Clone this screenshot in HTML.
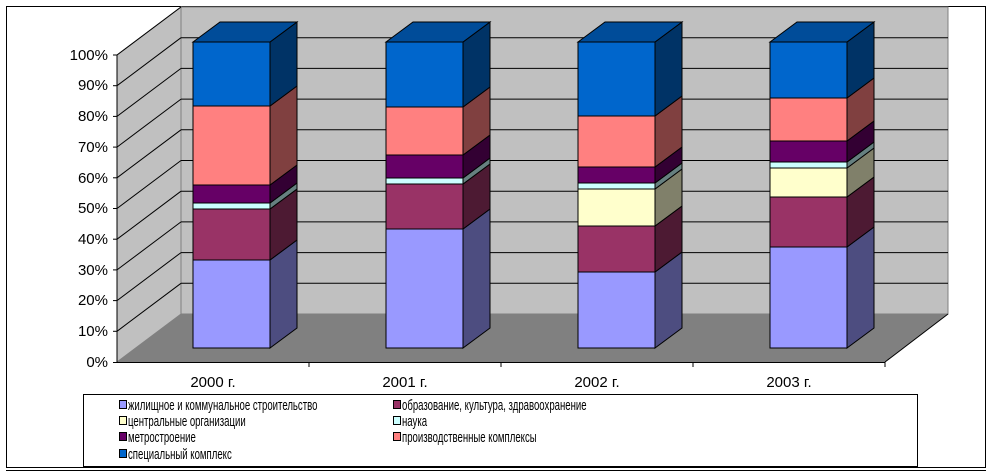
<!DOCTYPE html>
<html><head><meta charset="utf-8"><style>
body{margin:0;background:#fff;}
svg{display:block;font-family:"Liberation Sans",Arial,sans-serif;}
</style></head><body>
<svg width="992" height="475" viewBox="0 0 992 475" xmlns="http://www.w3.org/2000/svg">
<rect x="6.5" y="6.5" width="979" height="461" fill="#fff" stroke="#000"/>
<line x1="6" y1="470.5" x2="986" y2="470.5" stroke="#000"/>
<polygon points="181,7 948,7 948,314 181,314" fill="#c0c0c0" stroke="#808080"/>
<polygon points="117,55 181,7 181,314 117,362" fill="#c0c0c0" stroke="#808080"/>
<polygon points="117,362 181,314 948,314 885,362" fill="#808080"/>
<g stroke="#000" stroke-width="1">
<line x1="117" y1="331.3" x2="181" y2="283.3"/><line x1="181" y1="283.3" x2="948" y2="283.3"/>
<line x1="117" y1="300.6" x2="181" y2="252.6"/><line x1="181" y1="252.6" x2="948" y2="252.6"/>
<line x1="117" y1="269.9" x2="181" y2="221.9"/><line x1="181" y1="221.9" x2="948" y2="221.9"/>
<line x1="117" y1="239.2" x2="181" y2="191.2"/><line x1="181" y1="191.2" x2="948" y2="191.2"/>
<line x1="117" y1="208.5" x2="181" y2="160.5"/><line x1="181" y1="160.5" x2="948" y2="160.5"/>
<line x1="117" y1="177.8" x2="181" y2="129.8"/><line x1="181" y1="129.8" x2="948" y2="129.8"/>
<line x1="117" y1="147.1" x2="181" y2="99.1"/><line x1="181" y1="99.1" x2="948" y2="99.1"/>
<line x1="117" y1="116.4" x2="181" y2="68.4"/><line x1="181" y1="68.4" x2="948" y2="68.4"/>
<line x1="117" y1="85.7" x2="181" y2="37.7"/><line x1="181" y1="37.7" x2="948" y2="37.7"/>
<line x1="117" y1="55" x2="181" y2="7"/>
<line x1="885" y1="362" x2="948" y2="314"/>
<line x1="117" y1="55" x2="117" y2="362"/>
<line x1="113" y1="362.5" x2="885" y2="362.5"/>
<line x1="113" y1="331.3" x2="117" y2="331.3"/><line x1="113" y1="300.6" x2="117" y2="300.6"/>
<line x1="113" y1="269.9" x2="117" y2="269.9"/><line x1="113" y1="239.2" x2="117" y2="239.2"/>
<line x1="113" y1="208.5" x2="117" y2="208.5"/><line x1="113" y1="177.8" x2="117" y2="177.8"/>
<line x1="113" y1="147.1" x2="117" y2="147.1"/><line x1="113" y1="116.4" x2="117" y2="116.4"/>
<line x1="113" y1="85.7" x2="117" y2="85.7"/><line x1="113" y1="55" x2="117" y2="55"/>
<line x1="309" y1="362" x2="309" y2="367"/><line x1="501" y1="362" x2="501" y2="367"/>
<line x1="693" y1="362" x2="693" y2="367"/><line x1="885" y1="362" x2="885" y2="367"/>
</g>
<g font-size="15" text-anchor="end" fill="#000">
<text x="108" y="367">0%</text><text x="108" y="336">10%</text><text x="108" y="305">20%</text>
<text x="108" y="275">30%</text><text x="108" y="244">40%</text><text x="108" y="213">50%</text>
<text x="108" y="183">60%</text><text x="108" y="152">70%</text><text x="108" y="121">80%</text>
<text x="108" y="90">90%</text><text x="108" y="60">100%</text>
</g>
<g font-size="15" text-anchor="middle">
<text x="213" y="387">2000 г.</text><text x="405" y="387">2001 г.</text>
<text x="597" y="387">2002 г.</text><text x="789" y="387">2003 г.</text>
</g>
<g stroke="#000" stroke-width="1">
<rect x="193" y="260" width="77" height="88" fill="#9999ff"/><polygon points="270,260 297,240 297,328 270,348" fill="#4d4d80"/>
<rect x="193" y="209" width="77" height="51" fill="#993366"/><polygon points="270,209 297,189 297,240 270,260" fill="#4d1a33"/>
<rect x="193" y="203" width="77" height="6" fill="#ccffff"/><polygon points="270,203 297,183 297,189 270,209" fill="#668080"/>
<rect x="193" y="185" width="77" height="18" fill="#660066"/><polygon points="270,185 297,165 297,183 270,203" fill="#330033"/>
<rect x="193" y="106" width="77" height="79" fill="#ff8080"/><polygon points="270,106 297,86 297,165 270,185" fill="#804040"/>
<rect x="193" y="42" width="77" height="64" fill="#0066cc"/><polygon points="270,42 297,22 297,86 270,106" fill="#003366"/>
<polygon points="193,42 220,22 297,22 270,42" fill="#004c99"/>
<rect x="386" y="229" width="77" height="119" fill="#9999ff"/><polygon points="463,229 490,209 490,328 463,348" fill="#4d4d80"/>
<rect x="386" y="184" width="77" height="45" fill="#993366"/><polygon points="463,184 490,164 490,209 463,229" fill="#4d1a33"/>
<rect x="386" y="178" width="77" height="6" fill="#ccffff"/><polygon points="463,178 490,158 490,164 463,184" fill="#668080"/>
<rect x="386" y="155" width="77" height="23" fill="#660066"/><polygon points="463,155 490,135 490,158 463,178" fill="#330033"/>
<rect x="386" y="107" width="77" height="48" fill="#ff8080"/><polygon points="463,107 490,87 490,135 463,155" fill="#804040"/>
<rect x="386" y="42" width="77" height="65" fill="#0066cc"/><polygon points="463,42 490,22 490,87 463,107" fill="#003366"/>
<polygon points="386,42 413,22 490,22 463,42" fill="#004c99"/>
<rect x="578" y="272" width="77" height="76" fill="#9999ff"/><polygon points="655,272 682,252 682,328 655,348" fill="#4d4d80"/>
<rect x="578" y="226" width="77" height="46" fill="#993366"/><polygon points="655,226 682,206 682,252 655,272" fill="#4d1a33"/>
<rect x="578" y="189" width="77" height="37" fill="#ffffcc"/><polygon points="655,189 682,169 682,206 655,226" fill="#80806a"/>
<rect x="578" y="183" width="77" height="6" fill="#ccffff"/><polygon points="655,183 682,163 682,169 655,189" fill="#668080"/>
<rect x="578" y="167" width="77" height="16" fill="#660066"/><polygon points="655,167 682,147 682,163 655,183" fill="#330033"/>
<rect x="578" y="116" width="77" height="51" fill="#ff8080"/><polygon points="655,116 682,96 682,147 655,167" fill="#804040"/>
<rect x="578" y="42" width="77" height="74" fill="#0066cc"/><polygon points="655,42 682,22 682,96 655,116" fill="#003366"/>
<polygon points="578,42 605,22 682,22 655,42" fill="#004c99"/>
<rect x="770" y="247" width="77" height="101" fill="#9999ff"/><polygon points="847,247 874,227 874,328 847,348" fill="#4d4d80"/>
<rect x="770" y="197" width="77" height="50" fill="#993366"/><polygon points="847,197 874,177 874,227 847,247" fill="#4d1a33"/>
<rect x="770" y="168" width="77" height="29" fill="#ffffcc"/><polygon points="847,168 874,148 874,177 847,197" fill="#80806a"/>
<rect x="770" y="162" width="77" height="6" fill="#ccffff"/><polygon points="847,162 874,142 874,148 847,168" fill="#668080"/>
<rect x="770" y="141" width="77" height="21" fill="#660066"/><polygon points="847,141 874,121 874,142 847,162" fill="#330033"/>
<rect x="770" y="98" width="77" height="43" fill="#ff8080"/><polygon points="847,98 874,78 874,121 847,141" fill="#804040"/>
<rect x="770" y="42" width="77" height="56" fill="#0066cc"/><polygon points="847,42 874,22 874,78 847,98" fill="#003366"/>
<polygon points="770,42 797,22 874,22 847,42" fill="#004c99"/>
</g>
<rect x="83.5" y="394.5" width="834" height="72" fill="#fff" stroke="#000"/>
<g stroke="#000" stroke-width="1">
<rect x="119.5" y="400.5" width="7" height="8" fill="#9999ff"/>
<rect x="119.5" y="416.5" width="7" height="8" fill="#ffffcc"/>
<rect x="119.5" y="432.5" width="7" height="8" fill="#660066"/>
<rect x="119.5" y="449.5" width="7" height="8" fill="#0066cc"/>
<rect x="393.5" y="400.5" width="7" height="8" fill="#993366"/>
<rect x="393.5" y="416.5" width="7" height="8" fill="#ccffff"/>
<rect x="393.5" y="432.5" width="7" height="8" fill="#ff8080"/>
</g>
<g font-size="15">
<text transform="translate(128,410) scale(0.64,1)">жилищное и коммунальное строительство</text>
<text transform="translate(128,426) scale(0.64,1)">центральные организации</text>
<text transform="translate(128,442) scale(0.64,1)">метростроение</text>
<text transform="translate(128,459) scale(0.64,1)">специальный комплекс</text>
<text transform="translate(402,410) scale(0.64,1)">образование, культура, здравоохранение</text>
<text transform="translate(402,426) scale(0.64,1)">наука</text>
<text transform="translate(402,442) scale(0.64,1)">производственные комплексы</text>
</g>
</svg>
</body></html>
